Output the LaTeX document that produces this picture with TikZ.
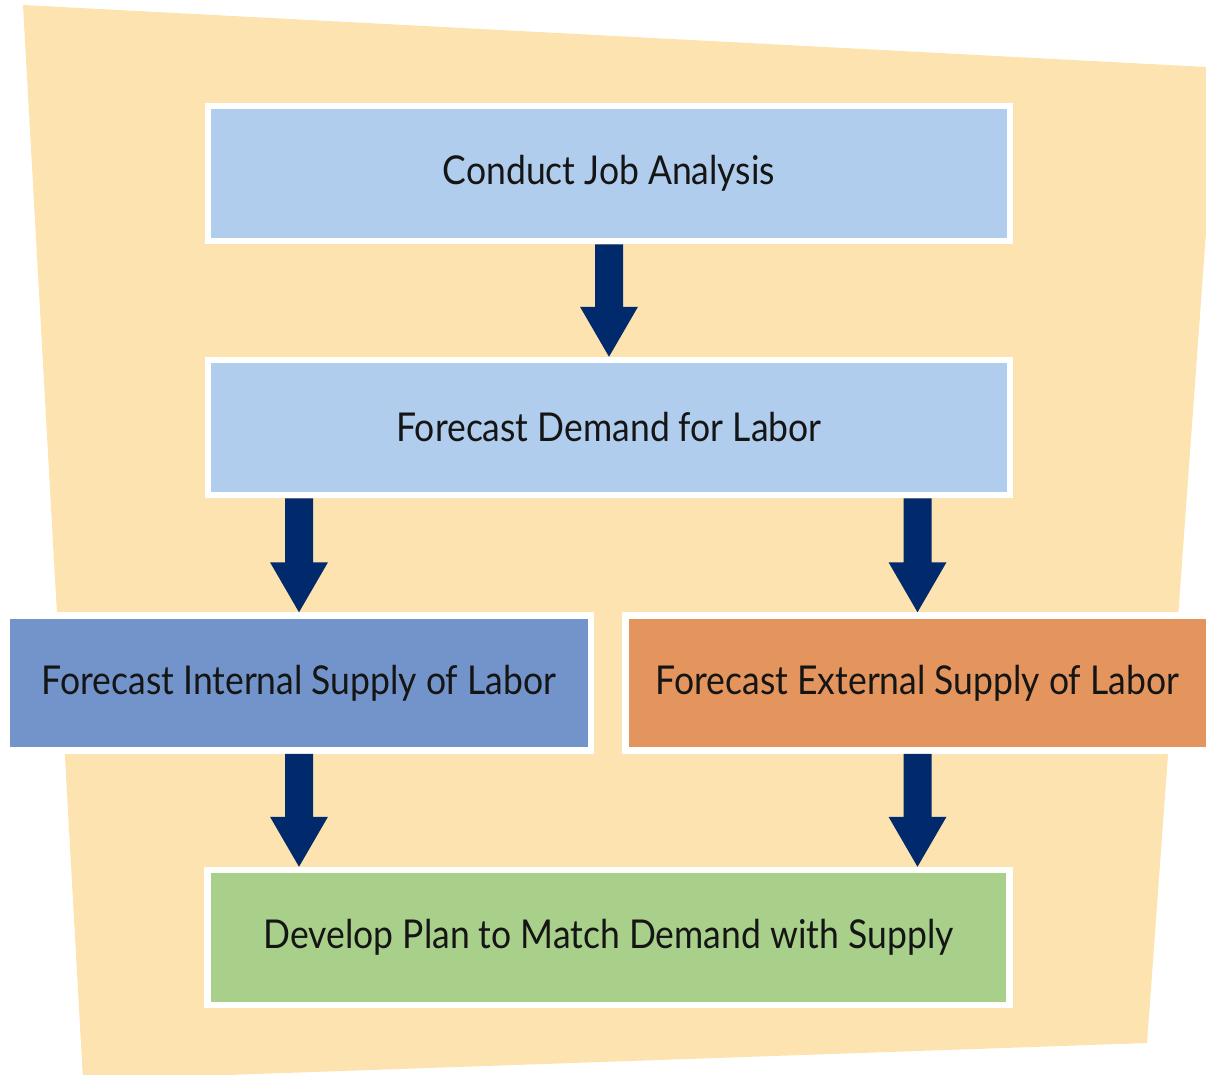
\documentclass[tikz,border=0pt]{standalone}
\usepackage{fontspec}
\setmainfont{Lato}
\usetikzlibrary{calc}
\definecolor{bgyellow}{HTML}{FCE3AF}
\definecolor{lightblue}{HTML}{B0CDEE}
\definecolor{midblue}{HTML}{7294CA}
\definecolor{orangebox}{HTML}{E3955D}
\definecolor{greenbox}{HTML}{A8D08A}
\definecolor{navy}{HTML}{002A6C}
\definecolor{textcol}{HTML}{151515}
\newcommand\bigconn[2]{%
  \path (#1) coordinate (cs) (#2) coordinate (ce);
  \fill[navy] ($(cs)+(-14,0)$) -- ($(cs)+(14,0)$) -- ($(ce)+(14,-50)$) -- ($(ce)+(29,-50)$)
    -- (ce) -- ($(ce)+(-29,-50)$) -- ($(ce)+(-14,-50)$) -- cycle;}
\newcommand\boxtext[1]{\scalebox{1}[1.12]{#1}}
\begin{document}
\begin{tikzpicture}[x=1pt,y=-1pt,
  flowbox/.style={draw=white, line width=6.5pt, inner sep=0pt, minimum height=135pt,
    text=textcol, font=\fontsize{35.5}{42}\selectfont}]
\useasboundingbox (0,0) rectangle (1206,1074);
\clip (0,0) rectangle (1206,1074);
\fill[bgyellow] (23,5) -- (1218,67.6) -- (1147,1043) -- (83,1080) -- cycle;
\node[flowbox, fill=lightblue, minimum width=802pt] (b1) at (609,173.5) {\boxtext{Conduct Job Analysis}};
\node[flowbox, fill=lightblue, minimum width=802pt] (b2) at (609,427.5) {\boxtext{Forecast Demand for Labor}};
\node[flowbox, fill=midblue, minimum width=584pt] (b3) at (299,683) {\boxtext{Forecast Internal Supply of Labor}};
\node[flowbox, fill=orangebox, minimum width=584pt] (b4) at (917.5,683) {\boxtext{Forecast External Supply of Labor}};
\node[flowbox, fill=greenbox, minimum width=802pt] (b5) at (608.5,937.5) {\boxtext{Develop Plan to Match Demand with Supply}};
\bigconn{b1.south}{b2.north}
\bigconn{b2.south -| b3.north}{b3.north}
\bigconn{b2.south -| b4.north}{b4.north}
\bigconn{b3.south}{b3.south |- b5.north}
\bigconn{b4.south}{b4.south |- b5.north}
\end{tikzpicture}
\end{document}
